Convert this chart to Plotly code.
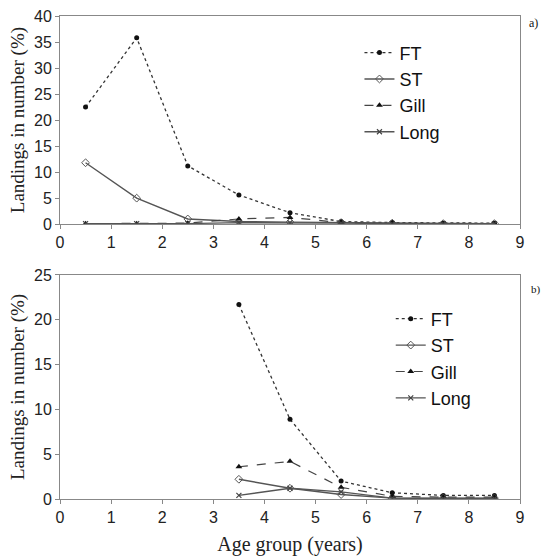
import plotly.graph_objects as go
from plotly.subplots import make_subplots

ages = [0.5, 1.5, 2.5, 3.5, 4.5, 5.5, 6.5, 7.5, 8.5]

# Panel a)
a_FT = [22.5, 35.8, 11.2, 5.6, 2.2, 0.5, 0.3, 0.2, 0.2]
a_ST = [11.8, 5.0, 1.0, 0.5, 0.4, 0.3, 0.2, 0.1, 0.1]
a_Gill = [0.1, 0.1, 0.2, 1.0, 1.3, 0.3, 0.1, 0.1, 0.1]
a_Long = [0.1, 0.1, 0.1, 0.3, 0.3, 0.2, 0.1, 0.1, 0.1]

# Panel b)
b_FT = [None, None, None, 21.7, 8.9, 2.0, 0.7, 0.4, 0.4]
b_ST = [None, None, None, 2.2, 1.2, 0.5, 0.1, 0.1, 0.1]
b_Gill = [None, None, None, 3.6, 4.2, 1.3, 0.3, 0.2, 0.2]
b_Long = [None, None, None, 0.4, 1.2, 0.8, 0.1, 0.05, 0.05]

x_ticks = [0, 1, 2, 3, 4, 5, 6, 7, 8, 9]

fig = make_subplots(rows=2, cols=1, vertical_spacing=0.1)

styles = {
    "FT": dict(line=dict(color="#333", width=1.3, dash="dot"),
               marker=dict(symbol="circle", size=5, color="#111")),
    "ST": dict(line=dict(color="#555", width=1.4, dash="solid"),
               marker=dict(symbol="diamond-open", size=6, color="#555", line=dict(width=1))),
    "Gill": dict(line=dict(color="#444", width=1.2, dash="dash"),
                 marker=dict(symbol="triangle-up", size=6, color="#111")),
    "Long": dict(line=dict(color="#555", width=1.4, dash="solid"),
                 marker=dict(symbol="x-thin", size=5, color="#444", line=dict(width=1.2, color="#444"))),
}

for name, vals in [("FT", a_FT), ("ST", a_ST), ("Gill", a_Gill), ("Long", a_Long)]:
    fig.add_trace(go.Scatter(x=ages, y=vals, mode="lines+markers", name=name,
                             legend="legend", **styles[name]), row=1, col=1)
for name, vals in [("FT", b_FT), ("ST", b_ST), ("Gill", b_Gill), ("Long", b_Long)]:
    fig.add_trace(go.Scatter(x=ages, y=vals, mode="lines+markers", name=name,
                             legend="legend2", **styles[name]), row=2, col=1)

axis_common = dict(showline=True, linecolor="#888", linewidth=1, mirror=True,
                   showgrid=False, zeroline=False, ticks="outside", ticklen=4,
                   automargin=False,
                   tickcolor="#888", tickfont=dict(family="Liberation Sans, Arial", size=16, color="#222"))

fig.update_xaxes(range=[0, 9], tickvals=x_ticks, **axis_common)
fig.update_yaxes(**axis_common)
fig.update_yaxes(range=[0, 40], dtick=5, row=1, col=1)
fig.update_yaxes(range=[0, 25], dtick=5, row=2, col=1)

title_font = dict(family="Liberation Serif, Times New Roman", size=19, color="#222")
fig.update_yaxes(title=dict(text="Landings in number (%)", font=title_font, standoff=4))
fig.update_xaxes(title=dict(text="Age group (years)", font=dict(family="Liberation Serif, Times New Roman", size=20, color="#222"), standoff=11), row=2, col=1)

legend_font = dict(family="Liberation Sans, Arial", size=18, color="#111")
fig.update_layout(
    width=544, height=556,
    margin=dict(l=60, r=24, t=16, b=57),
    plot_bgcolor="white", paper_bgcolor="white",
    yaxis=dict(domain=[0.569, 1.0]),
    yaxis2=dict(domain=[0.0, 0.4638]),
    legend=dict(x=0.651, y=0.962, xanchor="left", yanchor="top", font=legend_font,
                bgcolor="rgba(0,0,0,0)", tracegroupgap=0, itemwidth=30),
    legend2=dict(x=0.719, y=0.411, xanchor="left", yanchor="top", font=legend_font,
                 bgcolor="rgba(0,0,0,0)", tracegroupgap=0, itemwidth=30),
)

fig.add_annotation(text="a)", xref="paper", yref="paper", x=1.015, y=0.986,
                   xanchor="left", yanchor="middle", showarrow=False,
                   font=dict(family="Liberation Serif, Times New Roman", size=12, color="#111"))
fig.add_annotation(text="b)", xref="paper", yref="paper", x=1.02, y=0.433,
                   xanchor="left", yanchor="middle", showarrow=False,
                   font=dict(family="Liberation Serif, Times New Roman", size=11, color="#111"))

fig.write_html("out.html", config={"displayModeBar": False},
               post_script="document.body.style.margin='0';")
